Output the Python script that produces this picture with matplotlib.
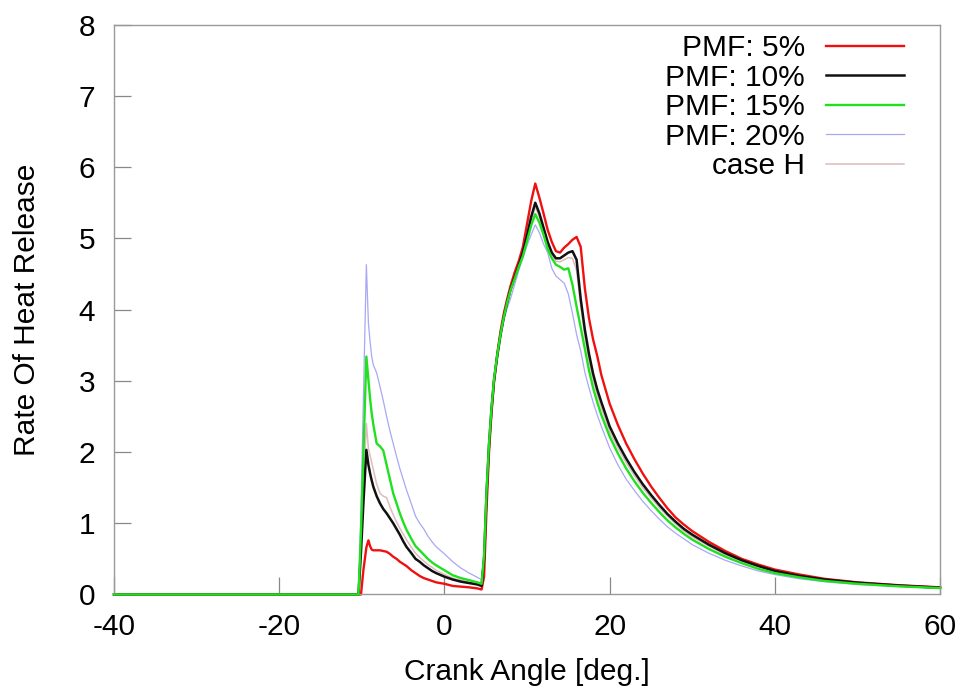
import matplotlib
matplotlib.use("Agg")
import matplotlib.pyplot as plt

plt.rcParams["font.family"] = ["Liberation Sans", "DejaVu Sans"]
plt.rcParams["axes.unicode_minus"] = False

# Crank angle grid [deg.]
crank_angle = [
    -40, -10.4, -10.1, -9.8, -9.45, -9.2, -9.0, -8.8, -8.6, -8.2,
    -7.8, -7.4, -7.0, -6.6, -6.2, -5.8, -5.4, -5.0, -4.6, -4.0,
    -3.5, -3.0, -2.5, -2.0, -1.5, -1.0, 0, 1, 2, 3,
    4, 4.5, 4.8, 5.1, 5.4, 5.7, 6.0, 6.4, 6.8, 7.2,
    7.6, 8.0, 8.5, 9.0, 9.5, 10.0, 10.5, 11.0, 11.5, 12.0,
    12.5, 13.0, 13.5, 14.0, 14.5, 15.0, 15.5, 16.0, 16.5, 17.0,
    17.5, 18.0, 18.5, 19.0, 20, 21, 22, 23, 24, 25,
    26, 27, 28, 29, 30, 32, 34, 36, 38, 40,
    43, 46, 50, 55, 60,
]

rohr_pmf5 = [
    0, 0, 0.0, 0.35, 0.66, 0.76, 0.68, 0.63, 0.62, 0.62,
    0.62, 0.61, 0.60, 0.57, 0.53, 0.50, 0.46, 0.43, 0.40, 0.34,
    0.30, 0.26, 0.23, 0.21, 0.19, 0.17, 0.15, 0.12, 0.11, 0.10,
    0.085, 0.07, 0.25, 1.2, 2.0, 2.55, 2.98, 3.38, 3.70, 3.95,
    4.15, 4.33, 4.52, 4.68, 4.88, 5.20, 5.52, 5.77, 5.57, 5.35,
    5.12, 4.95, 4.82, 4.80, 4.87, 4.92, 4.98, 5.02, 4.88, 4.30,
    3.88, 3.58, 3.35, 3.08, 2.68, 2.38, 2.12, 1.90, 1.70, 1.52,
    1.36, 1.21, 1.08, 0.98, 0.89, 0.74, 0.61, 0.50, 0.42, 0.35,
    0.28, 0.22, 0.17, 0.13, 0.10,
]

rohr_pmf10 = [
    0, 0, 0.6, 1.3, 2.03, 1.82, 1.70, 1.60, 1.51, 1.38,
    1.28, 1.20, 1.14, 1.07, 1.00, 0.92, 0.84, 0.75, 0.67, 0.58,
    0.50, 0.46, 0.41, 0.37, 0.33, 0.30, 0.25, 0.21, 0.18, 0.16,
    0.14, 0.12, 0.50, 1.42, 2.10, 2.60, 3.00, 3.35, 3.65, 3.90,
    4.10, 4.28, 4.45, 4.62, 4.80, 5.04, 5.30, 5.50, 5.35, 5.15,
    4.95, 4.80, 4.72, 4.72, 4.76, 4.80, 4.82, 4.70, 4.15, 3.72,
    3.38, 3.10, 2.88, 2.70, 2.36, 2.12, 1.91, 1.72, 1.55, 1.40,
    1.26, 1.13, 1.02, 0.92, 0.84, 0.70, 0.58, 0.48, 0.40, 0.33,
    0.26, 0.21, 0.165, 0.125, 0.095,
]

rohr_pmf15 = [
    0, 0, 0.9, 2.0, 3.34, 3.01, 2.75, 2.54, 2.38, 2.12,
    2.08, 2.02, 1.82, 1.62, 1.42, 1.28, 1.14, 1.02, 0.91, 0.78,
    0.68, 0.62, 0.56, 0.50, 0.45, 0.41, 0.34, 0.27, 0.23, 0.20,
    0.17, 0.15, 0.55, 1.45, 2.12, 2.62, 3.02, 3.37, 3.66, 3.90,
    4.10, 4.27, 4.43, 4.60, 4.75, 4.96, 5.18, 5.34, 5.22, 5.05,
    4.85, 4.72, 4.63, 4.60, 4.56, 4.58, 4.35, 4.04, 3.75, 3.45,
    3.15, 2.90, 2.70, 2.52, 2.22, 1.98, 1.77, 1.59, 1.43, 1.29,
    1.16, 1.04, 0.94, 0.85, 0.77, 0.64, 0.53, 0.44, 0.36, 0.30,
    0.24, 0.19, 0.15, 0.115, 0.09,
]

rohr_pmf20 = [
    0, 0, 1.2, 2.8, 4.63, 3.81, 3.55, 3.34, 3.22, 3.11,
    2.92, 2.72, 2.50, 2.30, 2.12, 1.94, 1.77, 1.62, 1.47, 1.27,
    1.10, 1.00, 0.92, 0.82, 0.74, 0.67, 0.57, 0.46, 0.37, 0.30,
    0.24, 0.21, 0.58, 1.45, 2.10, 2.60, 3.00, 3.34, 3.62, 3.85,
    4.02, 4.15, 4.35, 4.55, 4.72, 4.90, 5.05, 5.19, 5.08, 4.92,
    4.80, 4.58, 4.47, 4.42, 4.37, 4.22, 3.95, 3.65, 3.42, 3.12,
    2.90, 2.70, 2.52, 2.36, 2.06, 1.82, 1.62, 1.46, 1.31, 1.18,
    1.06, 0.95, 0.86, 0.78, 0.70, 0.58, 0.48, 0.40, 0.33, 0.28,
    0.22, 0.18, 0.14, 0.11, 0.085,
]

rohr_case_h = [
    0, 0, 0.7, 1.5, 2.40, 2.05, 1.95, 1.85, 1.75, 1.55,
    1.42, 1.38, 1.36, 1.23, 1.12, 1.02, 0.93, 0.85, 0.77, 0.66,
    0.58, 0.52, 0.47, 0.42, 0.38, 0.34, 0.28, 0.23, 0.20, 0.17,
    0.15, 0.13, 0.52, 1.43, 2.11, 2.61, 3.01, 3.36, 3.65, 3.90,
    4.10, 4.27, 4.44, 4.61, 4.78, 5.00, 5.25, 5.44, 5.30, 5.10,
    4.92, 4.76, 4.68, 4.67, 4.70, 4.73, 4.72, 4.55, 4.05, 3.62,
    3.29, 3.02, 2.80, 2.62, 2.29, 2.06, 1.85, 1.67, 1.50, 1.36,
    1.22, 1.10, 0.99, 0.89, 0.81, 0.68, 0.56, 0.47, 0.39, 0.32,
    0.25, 0.20, 0.16, 0.12, 0.092,
]

labels = ["PMF: 5%", "PMF: 10%", "PMF: 15%", "PMF: 20%", "case H"]
series = [rohr_pmf5, rohr_pmf10, rohr_pmf15, rohr_pmf20, rohr_case_h]
colors = ["#f01010", "#111111", "#20e020", "#a8a8f4", "#dcbcbc"]
widths = [1.7, 1.8, 1.7, 0.9, 1.1]
zorders = [2.3, 2.4, 2.6, 2.1, 2.2]

fig = plt.figure(figsize=(9.67, 6.89), dpi=100)
ax = fig.add_axes([0.1179, 0.1372, 0.8542, 0.8270])

for y, lab, c, lw, z in zip(series, labels, colors, widths, zorders):
    ax.plot(crank_angle, y, color=c, lw=lw, label=lab, zorder=z, clip_on=False)

ax.set_xlim(-40, 60)
ax.set_ylim(0, 8)
ax.set_xticks([-40, -20, 0, 20, 40, 60])
ax.set_yticks(range(0, 9))

fs = 21.5
for s in ax.spines.values():
    s.set_color("#999999")
    s.set_linewidth(1.0)
ax.tick_params(direction="in", length=12.5, width=0.9, color="#888888",
               labelsize=fs, pad=13.5, top=False, right=False)

ax.set_xlabel("Crank Angle [deg.]", fontsize=fs, labelpad=12)
ax.set_ylabel("Rate Of Heat Release", fontsize=fs, labelpad=27)

leg = ax.legend(loc="upper right", bbox_to_anchor=(0.9564, 0.983),
                frameon=False, markerfirst=False, fontsize=fs,
                handlelength=2.6, handletextpad=0.72, labelspacing=0.05,
                borderpad=0, borderaxespad=0)

fig.savefig("out.png", dpi=100)
